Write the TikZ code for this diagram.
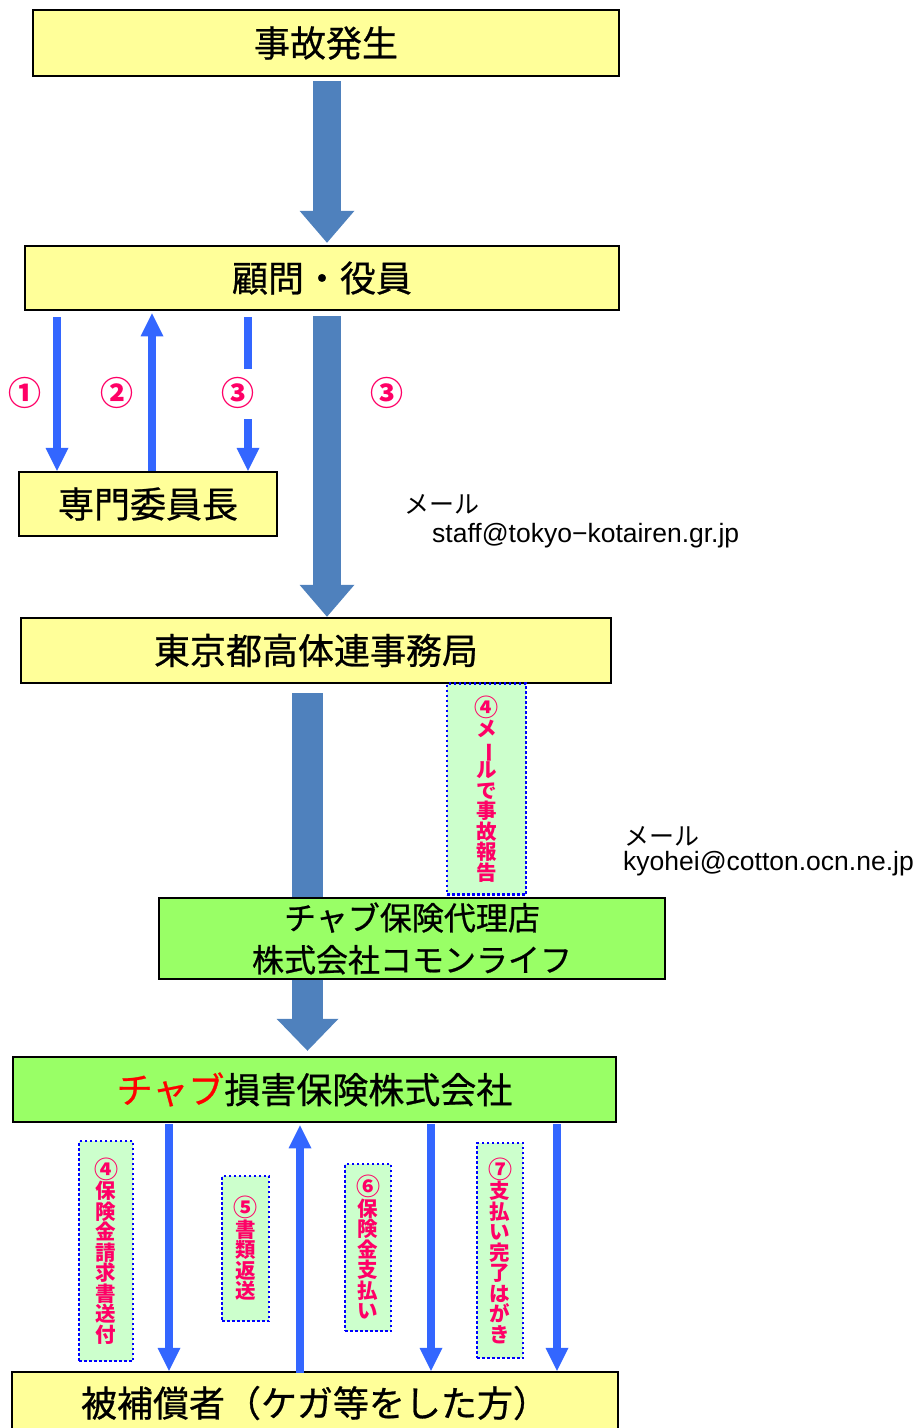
\documentclass[tikz,border=0pt]{standalone}
\usepackage{fontspec}
\newfontfamily\jp{Noto Sans CJK JP}
\newfontfamily\jpm[FakeBold=0.7]{Noto Sans CJK JP}
\newfontfamily\mailfont{Liberation Sans}
\usetikzlibrary{arrows.meta,calc,backgrounds}
\definecolor{boxyellow}{HTML}{FFFF99}
\definecolor{boxgreen}{HTML}{99FF66}
\definecolor{bigblue}{HTML}{4F81BD}
\definecolor{thinblue}{HTML}{3366FF}
\definecolor{notefill}{HTML}{CCFFCC}
\definecolor{notepink}{HTML}{FF0066}
\definecolor{notedot}{HTML}{0000FF}
\newcommand\choonv{\rotatebox[origin=c]{-90}{ー}}
\newcommand\cnum[1]{{\fontsize{24}{20.5}\selectfont #1}}
\newcommand\tightlines{\lineskiplimit=-20pt\relax\lineskip=0pt\relax}
\begin{document}
\begin{tikzpicture}[x=1pt,y=-1pt,
  mainbox/.style={draw=black,line width=2.5pt,inner sep=0pt,font=\jpm\fontsize{36}{40}\selectfont},
  ybox/.style={mainbox,fill=boxyellow},
  gbox/.style={mainbox,fill=boxgreen},
  bigarrow/.style={draw=bigblue,line width=28pt,-{Triangle[width=55pt,length=32pt,line width=0pt]}},
  thinarrow/.style={draw=thinblue,line width=8pt,-{Triangle[width=23pt,length=23pt,line width=0pt]}},
  thinline/.style={draw=thinblue,line width=8pt},
  notebox/.style={draw=notedot,fill=notefill,line width=2.5pt,dash pattern=on 2.5pt off 2.5pt,inner sep=0pt,text=notepink,align=center,font=\jp\bfseries\fontsize{20.5}{20.5}\selectfont\tightlines},
  circnum/.style={text=notepink,font=\jp\bfseries\fontsize{33}{33}\selectfont,inner sep=0pt},
  mailjp/.style={font=\jp\fontsize{25}{28}\selectfont,inner sep=0pt,anchor=base west},
  mailaddr/.style={font=\mailfont\fontsize{26.5}{28}\selectfont,inner sep=0pt,anchor=base west}
]
\useasboundingbox (0,0) rectangle (916,1428);

% column coordinates
\coordinate (c1) at (57,0);
\coordinate (c2) at (152,0);
\coordinate (c3) at (248,0);
\coordinate (cA) at (327,0);
\coordinate (cB) at (307.5,0);
\coordinate (d1) at (169,0);
\coordinate (d2) at (300,0);
\coordinate (d3) at (431,0);
\coordinate (d4) at (557,0);
\coordinate (g3t) at (248,369);
\coordinate (g3b) at (248,419);

% boxes
\node[ybox,minimum width=586pt,minimum height=66pt] (jiko) at (326,43) {事故発生};
\node[ybox,minimum width=594pt,minimum height=64pt] (komon) at (322,278) {顧問・役員};
\node[ybox,minimum width=258pt,minimum height=64pt] (senmon) at (148,504) {専門委員長};
\node[ybox,minimum width=590pt,minimum height=65pt] (tokyo) at (316,650.5) {東京都高体連事務局};
\node[gbox,minimum width=506pt,minimum height=81pt,align=center,font=\jpm\fontsize{32}{42}\selectfont] (dairi) at (412,938.5) {チャブ保険代理店\\株式会社コモンライフ};
\node[gbox,minimum width=603pt,minimum height=65pt] (chubb) at (314.5,1089.5) {\textcolor{red}{チャブ}損害保険株式会社};
\node[ybox,minimum width=606pt,minimum height=62pt] (hi) at (315,1403) {被補償者（ケガ等をした方）};

% big arrows
\draw[bigarrow] ($(jiko.south -| cA)+(0,4)$) -- ($(komon.north -| cA)+(0,-2)$);
\draw[bigarrow] ($(komon.south -| cA)+(0,5)$) -- (tokyo.north -| cA);
\begin{scope}[on background layer]
\draw[bigarrow,line width=31pt,-{Triangle[width=62pt,length=32pt,line width=0pt]}] ($(tokyo.south -| cB)+(0,9)$) -- ($(chubb.north -| cB)+(0,-5)$);
\end{scope}

% thin arrows top
\draw[thinarrow] ($(komon.south -| c1)+(0,6)$) -- (senmon.north -| c1);
\draw[thinarrow] (senmon.north -| c2) -- ($(komon.south -| c2)+(0,2)$);
\draw[thinline] ($(komon.south -| c3)+(0,6)$) -- (g3t);
\draw[thinarrow] (g3b) -- (senmon.north -| c3);

% circled labels
\node[circnum] (n1) at (25,393) {①};
\node[circnum] (n2) at (117,393) {②};
\node[circnum] (n3) at (238,393) {③};
\node[circnum] (n3b) at (387,393) {③};

% mail texts
\node[mailjp] (mail1) at (404,513) {メール};
\node[mailaddr] (addr1) at (432,542) {staff@tokyo−kotairen.gr.jp};
\node[mailjp] (mail2) at (624,845) {メール};
\node[mailaddr] (addr2) at (623,870) {kyohei@cotton.ocn.ne.jp};

% note boxes
\node[notebox,minimum width=79pt,minimum height=211pt] (note4a) at (486.5,789) {\cnum{④}\\メ\\\choonv\\ル\\で\\事\\故\\報\\告};
\node[notebox,minimum width=54pt,minimum height=220pt] (note4b) at (106,1251) {\cnum{④}\\保\\険\\金\\請\\求\\書\\送\\付};
\node[notebox,minimum width=47pt,minimum height=145pt] (note5) at (245.5,1248.5) {\cnum{⑤}\\書\\類\\返\\送};
\node[notebox,minimum width=46pt,minimum height=167pt] (note6) at (368,1247.5) {\cnum{⑥}\\保\\険\\金\\支\\払\\い};
\node[notebox,minimum width=46pt,minimum height=215pt] (note7) at (500,1250.5) {\cnum{⑦}\\支\\払\\い\\完\\了\\は\\が\\き};

% thin arrows bottom
\draw[thinarrow] ($(chubb.south -| d1)+(0,1)$) -- (hi.north -| d1);
\draw[thinarrow] ($(hi.north -| d2)+(0,2)$) -- ($(chubb.south -| d2)+(0,2)$);
\draw[thinarrow] ($(chubb.south -| d3)+(0,1)$) -- (hi.north -| d3);
\draw[thinarrow] ($(chubb.south -| d4)+(0,1)$) -- (hi.north -| d4);
\end{tikzpicture}
\end{document}
